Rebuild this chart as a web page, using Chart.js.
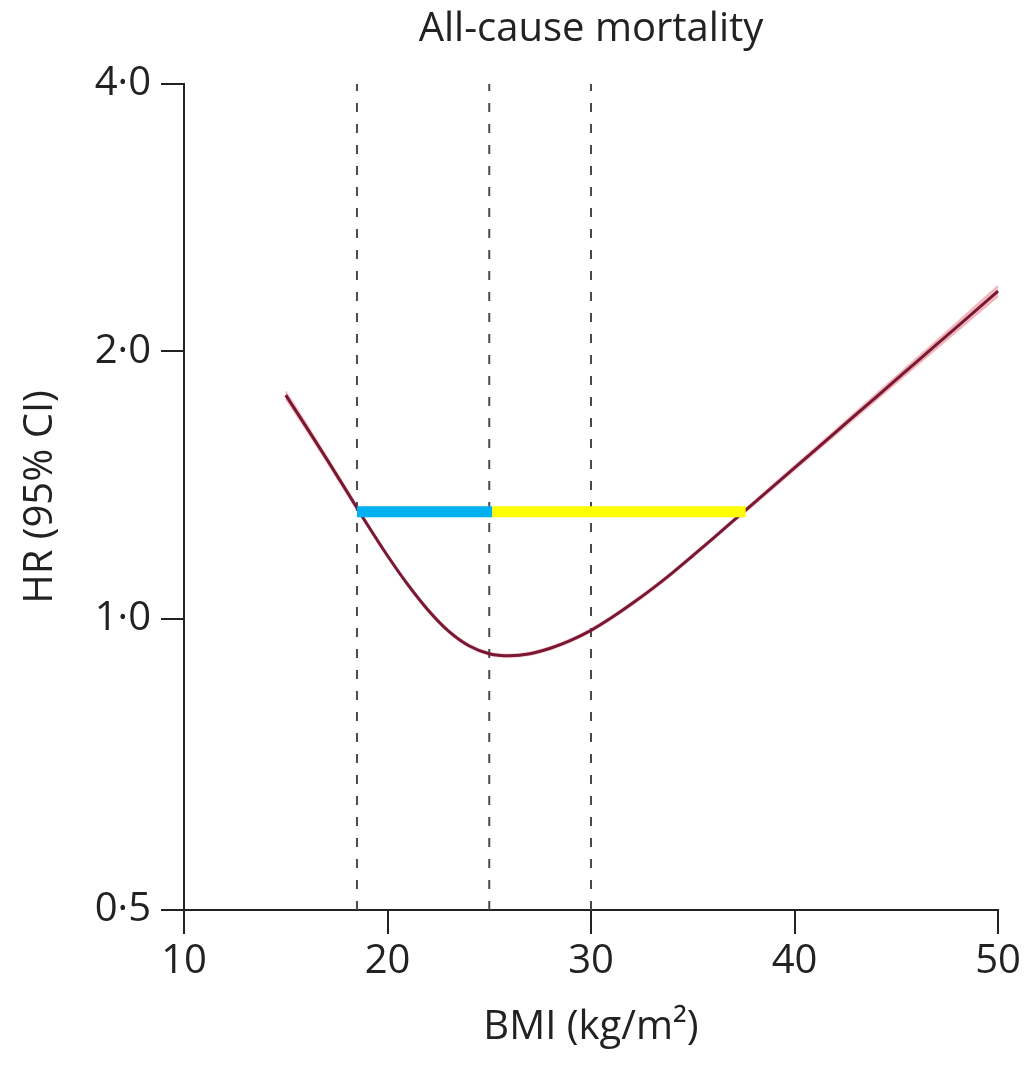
<!DOCTYPE html>
<html>
<head>
<meta charset="utf-8">
<script src="https://cdn.jsdelivr.net/npm/chart.js@4.4.0/dist/chart.umd.min.js"></script>
<style>
  html, body { margin: 0; padding: 0; background: #ffffff; }
  #wrap { width: 1027px; height: 1065px; }
</style>
</head>
<body>
<div id="wrap"><canvas id="c" width="1027" height="1065"></canvas></div>
<script>
// ---- data ----
const bmi     = [15, 16, 17, 18, 19, 20, 21, 22, 23, 24, 25, 26, 27, 28, 29, 30, 31, 32, 33, 34, 35, 36, 37, 38, 40, 42, 44, 46, 48, 50, 50.2];
const hr      = [1.786, 1.646, 1.515, 1.392, 1.278, 1.178, 1.093, 1.023, 0.969, 0.933, 0.914, 0.909, 0.914, 0.927, 0.946, 0.971, 1.003, 1.040, 1.081, 1.127, 1.178, 1.232, 1.290, 1.350, 1.479, 1.621, 1.776, 1.947, 2.133, 2.338, 2.359];
const hrLower = [1.769, 1.632, 1.505, 1.384, 1.273, 1.174, 1.089, 1.019, 0.966, 0.930, 0.911, 0.906, 0.911, 0.924, 0.943, 0.968, 1.000, 1.036, 1.077, 1.123, 1.174, 1.228, 1.286, 1.344, 1.471, 1.610, 1.761, 1.928, 2.108, 2.306, 2.326];
const hrUpper = [1.804, 1.660, 1.525, 1.400, 1.283, 1.182, 1.097, 1.027, 0.972, 0.936, 0.917, 0.912, 0.917, 0.930, 0.949, 0.974, 1.006, 1.044, 1.085, 1.131, 1.182, 1.236, 1.294, 1.356, 1.487, 1.632, 1.791, 1.966, 2.158, 2.371, 2.392];

const cutoffs = [18.5, 25, 30];              // dashed reference lines (BMI)
const blueRange = [18.5, 25.15];             // highlighted band, blue part (BMI)
const yellowRange = [25.15, 37.6];           // highlighted band, yellow part (BMI)
const bandHR = 1.32;                         // HR level of highlighted band

const xTicks = [10, 20, 30, 40, 50];
const xRange = [10, 50];
const yAxisMin = 0.4704;                     // bottom of the (stretched) axis, labelled 0·5 in the original
const yAxisMax = 4;
const yTicks = [yAxisMin, 1, 2, 4];
const yTickLabels = ['0·5', '1·0', '2·0', '4·0'];

const titleText = 'All-cause mortality';
const xTitle = 'BMI (kg/m²)';
const yTitle = 'HR (95% CI)';

// ---- build ----
const FONT = "'Open Sans', 'Noto Sans', sans-serif";
const TXT = '#222222';
const toPts = (xs, ys) => xs.map((x, i) => ({ x: x, y: ys[i] }));

const datasets = [];
datasets.push({ data: toPts(bmi, hrLower), borderColor: 'rgba(225,120,130,0.35)', borderWidth: 2, pointRadius: 0, fill: false, cubicInterpolationMode: 'monotone', clip: false, order: 5 });
datasets.push({ data: toPts(bmi, hrUpper), borderColor: 'rgba(225,120,130,0.35)', borderWidth: 2, pointRadius: 0, fill: '-1', backgroundColor: 'rgba(225,120,130,0.45)', cubicInterpolationMode: 'monotone', clip: false, order: 5 });
cutoffs.forEach(c => {
  datasets.push({ data: [{ x: c, y: yAxisMin }, { x: c, y: yAxisMax }], borderColor: '#4a4a4a', borderWidth: 2, borderDash: [9, 12], pointRadius: 0, fill: false, order: 4 });
});
datasets.push({ data: toPts(bmi, hr), borderColor: '#7a1834', borderWidth: 3, pointRadius: 0, fill: false, cubicInterpolationMode: 'monotone', clip: false, order: 2 });
datasets.push({ data: [{ x: blueRange[0], y: bandHR }, { x: blueRange[1], y: bandHR }], borderColor: '#00b0f0', borderWidth: 11, borderCapStyle: 'butt', pointRadius: 0, fill: false, order: 1 });
datasets.push({ data: [{ x: yellowRange[0], y: bandHR }, { x: yellowRange[1], y: bandHR }], borderColor: '#ffff00', borderWidth: 11, borderCapStyle: 'butt', pointRadius: 0, fill: false, order: 0 });

new Chart(document.getElementById('c'), {
  type: 'line',
  data: { datasets: datasets },
  options: {
    responsive: false,
    animation: false,
    devicePixelRatio: 1,
    layout: { padding: { left: 0, right: 29, top: 0, bottom: 0 } },
    plugins: {
      legend: { display: false },
      tooltip: { enabled: false },
      title: {
        display: true, text: titleText, color: TXT, fullSize: false,
        font: { family: FONT, size: 40, weight: 'normal' },
        padding: { top: 6, bottom: 30 }
      }
    },
    scales: {
      x: {
        type: 'linear', min: xRange[0], max: xRange[1],
        afterBuildTicks: s => { s.ticks = xTicks.map(v => ({ value: v })); },
        afterFit: s => { s.height = 155; },
        ticks: { color: TXT, font: { family: FONT, size: 40 }, padding: 4, maxRotation: 0, autoSkip: false },
        grid: { drawOnChartArea: false, drawTicks: true, tickLength: 24, color: '#222', lineWidth: 2 },
        border: { display: true, color: '#222', width: 2 },
        title: { display: true, text: xTitle, color: TXT, font: { family: FONT, size: 40 }, padding: { top: 0, bottom: 13 } }
      },
      y: {
        type: 'logarithmic', min: yAxisMin, max: yAxisMax,
        afterBuildTicks: s => { s.ticks = yTicks.map(v => ({ value: v })); },
        afterFit: s => { s.width = 184; },
        ticks: { color: TXT, font: { family: FONT, size: 40 }, padding: 10, autoSkip: false,
                 callback: (v, i) => yTickLabels[i] },
        grid: { drawOnChartArea: false, drawTicks: true, tickLength: 23, color: '#222', lineWidth: 2 },
        border: { display: true, color: '#222', width: 2 },
        title: { display: true, text: yTitle, color: TXT, font: { family: FONT, size: 40 }, padding: { top: 17, bottom: 0 } }
      }
    }
  }
});
</script>
</body>
</html>
